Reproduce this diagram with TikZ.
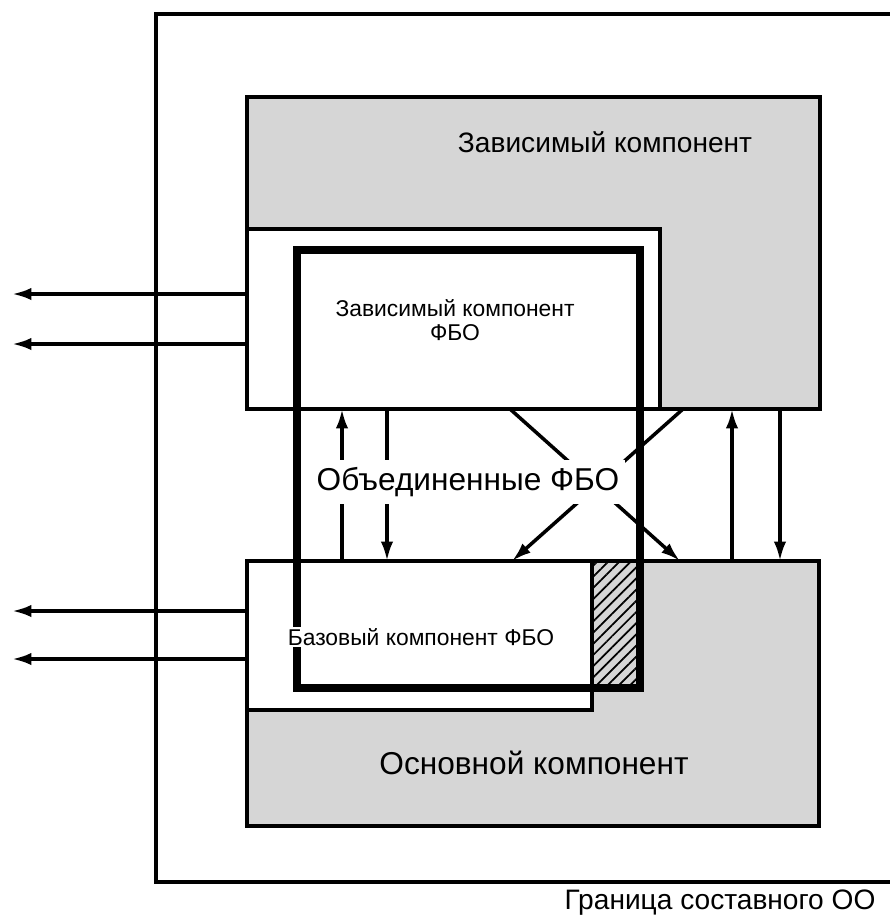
\documentclass[tikz,border=0pt]{standalone}
\usepackage{fontspec}
\setmainfont{Liberation Sans}
\usetikzlibrary{arrows.meta,patterns.meta}
\definecolor{compgray}{rgb}{0.84,0.84,0.84}

\begin{document}
\begin{tikzpicture}[x=0.02cm,y=-0.02cm,
  box/.style={draw=black,line width=2pt},
  flow/.style={line width=2pt,-{Latex[length=11pt,width=7pt]}},
  label/.style={inner sep=2pt},
  ]
  \useasboundingbox (0,0) rectangle (890,924);

  % Boundary of the composite TOE (runs off the right edge)
  \draw[line width=2pt] (890,14) -- (156,14) -- (156,882) -- (890,882);

  % Dependent component with its white TSF part
  \filldraw[compgray,box] (247,97) rectangle (820,409);
  \filldraw[white,box] (247,229) rectangle (660,409);

  % Base component with its white TSF part
  \filldraw[compgray,box] (247,561) rectangle (819,826);
  \filldraw[white,box] (247,561) rectangle (592,710);

  % Hatched strip
  \draw[box,pattern={Lines[angle=45,distance=4.5pt,line width=1pt]}]
    (592,561) rectangle (640,688);

  % Composed TSF (thick frame)
  \draw[line width=4pt] (297,250) rectangle (640,688);

  % Connector end points
  \foreach \n/\x in {a/342,b/387,c/732,d/780} {
    \coordinate (top-\n) at (\x,409);
    \coordinate (bot-\n) at (\x,561);
  }
  \foreach \n/\y in {1/294,2/344} {
    \coordinate (dep-\n) at (247,\y);
    \coordinate (depout-\n) at (12,\y);
  }
  \foreach \n/\y in {1/611,2/659} {
    \coordinate (base-\n) at (247,\y);
    \coordinate (baseout-\n) at (12,\y);
  }
  \coordinate (xa) at (510,409);
  \coordinate (xb) at (683,409);
  \coordinate (xc) at (512,561);
  \coordinate (xd) at (680,561);

  % Outgoing interfaces
  \draw[flow] (dep-1) -- (depout-1);
  \draw[flow] (dep-2) -- (depout-2);
  \draw[flow] (base-1) -- (baseout-1);
  \draw[flow] (base-2) -- (baseout-2);

  % Calls between the two components
  \draw[flow] (bot-a) -- (top-a);
  \draw[flow] (top-b) -- (bot-b);
  \draw[flow] (bot-c) -- (top-c);
  \draw[flow] (top-d) -- (bot-d);
  \draw[flow] (xa) -- (xd);
  \draw[flow] (xb) -- (xc);

  % Texts
  \node[label,font=\fontsize{16}{19}\selectfont] (deptitle) at (605,142)
    {Зависимый компонент};
  \node[label,align=center,font=\fontsize{13}{14}\selectfont] (deptsf) at (455,320)
    {Зависимый компонент\\ФБО};
  \node[label,fill=white,inner xsep=3pt,inner ysep=4pt,
    font=\fontsize{18}{21}\selectfont] (comptsf) at (468,482)
    {Объединенные ФБО};
  \node[label,fill=white,inner sep=1pt,font=\fontsize{13}{15}\selectfont]
    (basetsf) at (421,637) {Базовый компонент ФБО};
  \node[label,font=\fontsize{18}{21}\selectfont] (basetitle) at (534,763)
    {Основной компонент};
  \node[label,font=\fontsize{16}{19}\selectfont] (bound) at (720,903)
    {Граница составного ОО};

\end{tikzpicture}
\end{document}
